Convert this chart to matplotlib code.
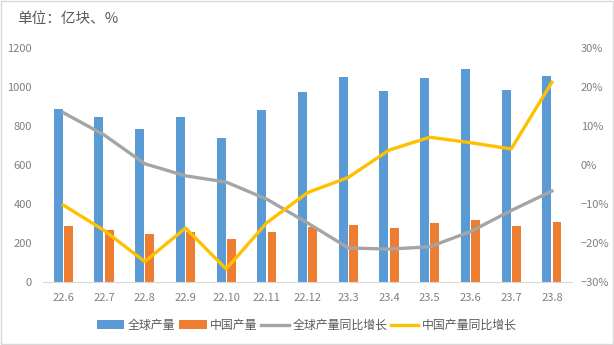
import numpy as np
import matplotlib
matplotlib.use("Agg")
import matplotlib.pyplot as plt
from matplotlib.ticker import FuncFormatter

plt.rcParams['font.family'] = ['Noto Sans CJK SC', 'DejaVu Sans']

months = ['22.6', '22.7', '22.8', '22.9', '22.10', '22.11', '22.12',
          '23.3', '23.4', '23.5', '23.6', '23.7', '23.8']
global_out = [887, 846, 785, 846, 738, 882, 974, 1051, 979, 1046, 1092, 985, 1056]
china_out = [287, 267, 246, 256, 220, 256, 282, 292, 277, 303, 318, 287, 308]
global_yoy = [13.4, 7.7, 0.3, -2.8, -4.4, -8.8, -14.9, -21.3, -21.6, -21.0, -17.1, -11.7, -6.7]
china_yoy = [-10.3, -16.8, -24.8, -16.2, -26.7, -14.8, -7.1, -3.2, 3.8, 7.1, 5.7, 4.1, 21.2]

c_blue = '#5B9BD5'
c_orange = '#ED7D31'
c_gray = '#A5A5A5'
c_yellow = '#FFC000'
tick_c = '#7F7F7F'

fig = plt.figure(figsize=(6.14, 3.45), dpi=100)
ax = fig.add_axes([0.070, 0.183, 0.862, 0.678])
ax2 = ax.twinx()

x = np.arange(len(months))
w = 0.22
b1 = ax.bar(x - 0.125, global_out, w, color=c_blue, label='全球产量', zorder=2)
b2 = ax.bar(x + 0.125, china_out, w, color=c_orange, label='中国产量', zorder=2)
l1, = ax2.plot(x, global_yoy, color=c_gray, lw=2.4, label='全球产量同比增长')
l2, = ax2.plot(x, china_yoy, color=c_yellow, lw=2.4, label='中国产量同比增长')

ax.set_xlim(-0.5, len(months) - 0.5)
ax.set_ylim(0, 1200)
ax.set_yticks(range(0, 1201, 200))
ax2.set_ylim(-30, 30)
ax2.set_yticks(range(-30, 31, 10))
ax2.yaxis.set_major_formatter(FuncFormatter(lambda v, p: f'{int(v)}%'.replace('-', '−')))

ax.set_xticks(x)
ax.set_xticklabels(months)
for a in (ax, ax2):
    for s in a.spines.values():
        s.set_visible(False)
    a.tick_params(length=0, colors=tick_c, labelsize=8)
ax.spines['bottom'].set_visible(True)
ax.spines['bottom'].set_color('#D9D9D9')
ax.tick_params(axis='x', pad=8)
ax.tick_params(axis='y', pad=8)
ax2.tick_params(axis='y', pad=6)

fig.text(0.028, 0.945, '单位：亿块、%', fontsize=10.5, color='#595959', va='center')

fig.legend(handles=[b1, b2, l1, l2], loc='center', bbox_to_anchor=(0.5, 0.057),
           ncol=4, frameon=False, fontsize=8.6, handlelength=2.3, handletextpad=0.3,
           columnspacing=0.3, labelcolor='#595959')

fig.patches.append(plt.Rectangle((0.001, 0.002), 0.997, 0.995, transform=fig.transFigure,
                                 fill=False, edgecolor='#D9D9D9', lw=1))

fig.savefig('out.png', dpi=100)
